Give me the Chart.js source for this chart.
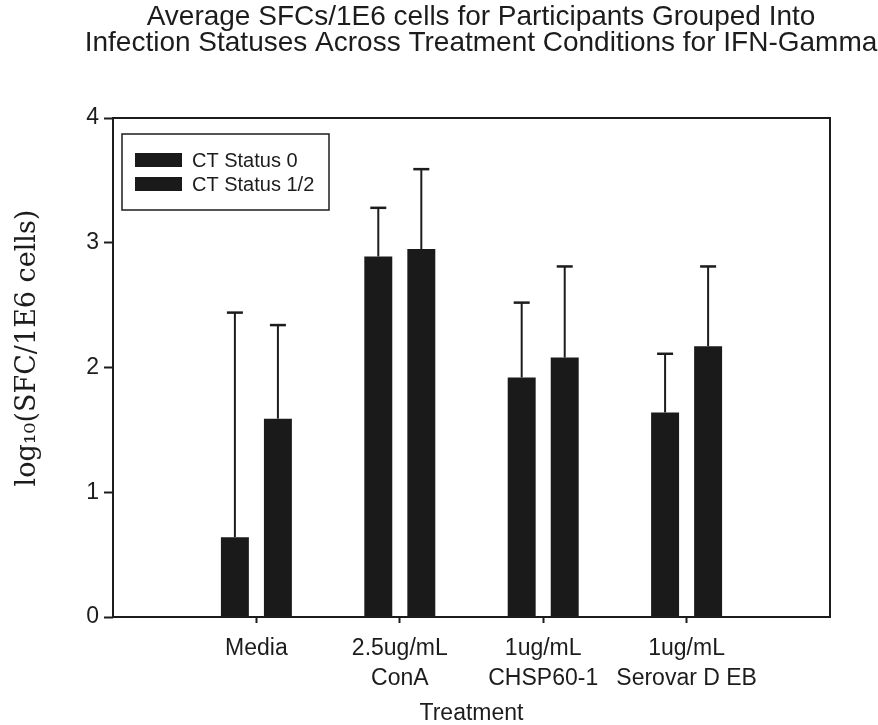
<!DOCTYPE html>
<html lang="en">

<head>
    <meta charset="UTF-8">
    <title>IFN-Gamma SFCs</title>
    <script src="https://cdn.jsdelivr.net/npm/chart.js"></script>
    <style>
        html, body {
            margin: 0;
            padding: 0;
            background: #ffffff;
        }

        .chart-box {
            width: 878px;
            height: 725px;
        }
    </style>
</head>

<body>
    <div class="chart-box">
        <canvas id="sfcChart"></canvas>
    </div>

    <script>
        // treatments along the x axis (multi-line labels)
        const treatments = ['Media', ['2.5ug/mL', 'ConA'], ['1ug/mL', 'CHSP60-1'], ['1ug/mL', 'Serovar D EB']];
        const seriesNames = ['CT Status 0', 'CT Status 1/2'];

        // mean log10 SFC per group
        const status0 = [0.64, 2.89, 1.92, 1.64];
        const status1 = [1.59, 2.95, 2.08, 2.17];

        // upper error (added on top of the mean)
        const err0 = [1.80, 0.39, 0.60, 0.47];
        const err1 = [0.75, 0.64, 0.73, 0.64];

        const yTicks = [0, 1, 2, 3, 4];

        const titleLines = ['Average SFCs/1E6 cells for Participants Grouped Into',
            'Infection Statuses Across Treatment Conditions for IFN-Gamma'];
        const yTitle = 'log₁₀(SFC/1E6 cells)';

        const ink = '#1c1c1c';
        const barFill = '#1a1a1a';
        const sans = '"Liberation Sans", Arial, sans-serif';
        const serif = '"DejaVu Serif", "Liberation Serif", serif';

        // linear x axis so treatments sit at 1..4 with empty space at 0 and 5
        function points(values) {
            return values.map((v, i) => ({ x: i + 1, y: v }));
        }

        // frame, upper error bars, legend box, titles
        const decorations = {
            id: 'decorations',
            afterDatasetsDraw(chart) {
                const { ctx, chartArea } = chart;
                const errors = [err0, err1];
                ctx.save();
                ctx.strokeStyle = ink;

                chart.data.datasets.forEach((ds, di) => {
                    const meta = chart.getDatasetMeta(di);
                    meta.data.forEach((bar, i) => {
                        const top = chart.scales.y.getPixelForValue(ds.data[i].y + errors[di][i]);
                        ctx.lineWidth = 2;
                        ctx.beginPath();
                        ctx.moveTo(bar.x, bar.y);
                        ctx.lineTo(bar.x, top);
                        ctx.stroke();
                        ctx.lineWidth = 2.5;
                        ctx.beginPath();
                        ctx.moveTo(bar.x - 8, top);
                        ctx.lineTo(bar.x + 8, top);
                        ctx.stroke();
                    });
                });

                ctx.lineWidth = 2;
                ctx.strokeRect(chartArea.left, chartArea.top, chartArea.right - chartArea.left, chartArea.bottom - chartArea.top);

                // legend
                const lx = chartArea.left + 9;
                const ly = chartArea.top + 16;
                ctx.lineWidth = 1.5;
                ctx.strokeRect(lx, ly, 207, 76);
                ctx.font = '20px ' + sans;
                ctx.textBaseline = 'middle';
                chart.data.datasets.forEach((ds, di) => {
                    const rowY = ly + 26 + di * 24;
                    ctx.fillStyle = ds.backgroundColor;
                    ctx.fillRect(lx + 13, rowY - 7, 47, 14);
                    ctx.fillStyle = ink;
                    ctx.fillText(ds.label, lx + 70, rowY + 1);
                });

                // chart title
                ctx.fillStyle = ink;
                ctx.textAlign = 'center';
                ctx.font = '28px ' + sans;
                titleLines.forEach((line, i) => {
                    ctx.fillText(line, 481, 17 + i * 26);
                });

                // y axis title
                ctx.translate(28, 348);
                ctx.rotate(-Math.PI / 2);
                ctx.font = '27px ' + serif;
                ctx.fillText(yTitle, 0, 0);
                ctx.restore();
            }
        };

        const chartCtx = document.getElementById('sfcChart').getContext('2d');
        new Chart(chartCtx, {
            type: 'bar',
            data: {
                datasets: [
                    { label: seriesNames[0], data: points(status0), backgroundColor: barFill },
                    { label: seriesNames[1], data: points(status1), backgroundColor: barFill }
                ]
            },
            options: {
                responsive: true,
                maintainAspectRatio: false,
                animation: false,
                categoryPercentage: 0.6,
                barPercentage: 0.65,
                layout: {
                    padding: { left: 0, right: 48, top: 118, bottom: 0 }
                },
                plugins: {
                    legend: { display: false },
                    tooltip: { enabled: false },
                    title: { display: false }
                },
                scales: {
                    x: {
                        type: 'linear',
                        min: 0,
                        max: 5,
                        offset: false,
                        afterBuildTicks(scale) {
                            scale.ticks = treatments.map((_, i) => ({ value: i + 1 }));
                        },
                        afterFit(scale) {
                            scale.height = 108;
                        },
                        ticks: {
                            autoSkip: false,
                            maxRotation: 0,
                            color: ink,
                            padding: 11,
                            font: { family: sans, size: 23, lineHeight: 1.3 },
                            callback: (value) => treatments[value - 1]
                        },
                        grid: {
                            offset: false,
                            drawOnChartArea: false,
                            tickLength: 6,
                            tickWidth: 2,
                            color: ink
                        },
                        border: { display: false },
                        title: {
                            display: true,
                            text: 'Treatment',
                            color: ink,
                            font: { family: sans, size: 23, lineHeight: 1.0 },
                            padding: { top: 0, bottom: 0 }
                        }
                    },
                    y: {
                        min: 0,
                        max: 4,
                        afterBuildTicks(scale) {
                            scale.ticks = yTicks.map(v => ({ value: v }));
                        },
                        afterFit(scale) {
                            scale.width = 113;
                        },
                        ticks: {
                            color: ink,
                            padding: 5,
                            font: { family: sans, size: 23 }
                        },
                        grid: {
                            drawOnChartArea: false,
                            tickLength: 9,
                            tickWidth: 2,
                            color: ink
                        },
                        border: { display: false }
                    }
                }
            },
            plugins: [decorations]
        });
    </script>
</body>

</html>
